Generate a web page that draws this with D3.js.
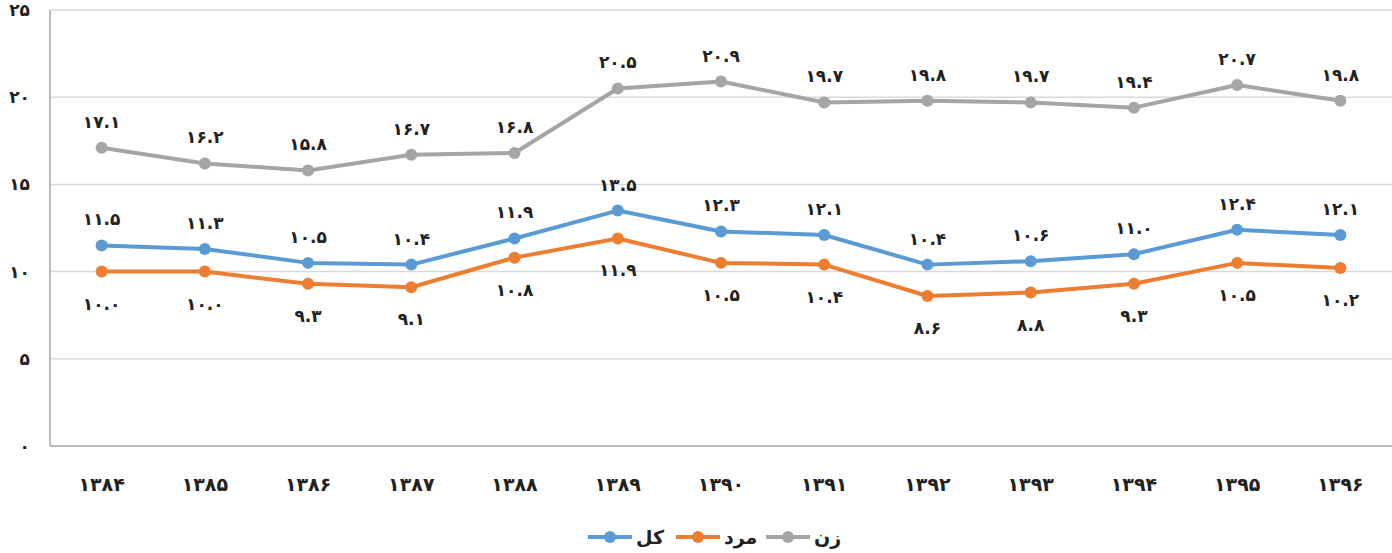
<!DOCTYPE html>
<html>
<head>
<meta charset="utf-8">
<script src="https://cdn.jsdelivr.net/npm/d3@7"></script>
<style>
body { margin:0; background:#fff; }
text { font-family: "DejaVu Sans", sans-serif; font-weight: bold; fill:#222; }
</style>
</head>
<body>
<script>
const width = 1392, height = 553;

const years = [1384, 1385, 1386, 1387, 1388, 1389, 1390, 1391, 1392, 1393, 1394, 1395, 1396];
const zan = [17.1, 16.2, 15.8, 16.7, 16.8, 20.5, 20.9, 19.7, 19.8, 19.7, 19.4, 20.7, 19.8];
const kol = [11.5, 11.3, 10.5, 10.4, 11.9, 13.5, 12.3, 12.1, 10.4, 10.6, 11.0, 12.4, 12.1];
const mard = [10.0, 10.0, 9.3, 9.1, 10.8, 11.9, 10.5, 10.4, 8.6, 8.8, 9.3, 10.5, 10.2];
const yTicks = [0, 5, 10, 15, 20, 25];

const fa = s => String(s).replace(/\d/g, d => "۰۱۲۳۴۵۶۷۸۹"[d]);

const series = [
  {name: "زن", values: zan, color: "#a5a5a5", above: true},
  {name: "کل", values: kol, color: "#5b9bd5", above: true},
  {name: "مرد", values: mard, color: "#ed7d31", above: false}
];

const svg = d3.select("body").append("svg")
  .attr("width", width).attr("height", height);

const x = d3.scaleBand().domain(years).range([50, 1392]);
const y = d3.scaleLinear().domain([0, 25]).range([446, 10]);

// grid
svg.append("g").selectAll("line").data(yTicks.filter(d => d > 0)).join("line")
  .attr("x1", 50).attr("x2", 1392)
  .attr("y1", d => y(d)).attr("y2", d => y(d))
  .attr("stroke", "#d9d9d9").attr("stroke-width", 1.5);

// axes lines
svg.append("line").attr("x1", 50).attr("x2", 50).attr("y1", y(25)).attr("y2", y(0))
  .attr("stroke", "#a6a6a6").attr("stroke-width", 1.5);
svg.append("line").attr("x1", 50).attr("x2", 1392).attr("y1", y(0)).attr("y2", y(0))
  .attr("stroke", "#a6a6a6").attr("stroke-width", 1.5);

// y labels
svg.append("g").selectAll("text").data(yTicks).join("text")
  .attr("x", 30).attr("y", d => y(d) + 6)
  .attr("text-anchor", "end").attr("font-size", 17)
  .text(d => fa(d));

// x labels
svg.append("g").selectAll("text").data(years).join("text")
  .attr("x", d => x(d) + x.bandwidth() / 2).attr("y", 491)
  .attr("text-anchor", "middle").attr("font-size", 19)
  .text(d => fa(d));

const line = d3.line()
  .x((d, i) => x(years[i]) + x.bandwidth() / 2)
  .y(d => y(d));

series.forEach(s => {
  const g = svg.append("g");
  g.append("path").datum(s.values)
    .attr("d", line).attr("fill", "none")
    .attr("stroke", s.color).attr("stroke-width", 4).attr("stroke-linejoin", "round");
  g.selectAll("circle").data(s.values).join("circle")
    .attr("cx", (d, i) => x(years[i]) + x.bandwidth() / 2)
    .attr("cy", d => y(d)).attr("r", 6).attr("fill", s.color);
  g.selectAll("text").data(s.values).join("text")
    .attr("x", (d, i) => x(years[i]) + x.bandwidth() / 2)
    .attr("y", d => s.above ? y(d) - 20 : y(d) + 38)
    .attr("text-anchor", "middle").attr("font-size", 17)
    .text(d => fa(d.toFixed(1)));
});

// legend
const legendItems = [
  {name: "کل", color: "#5b9bd5", x0: 588},
  {name: "مرد", color: "#ed7d31", x0: 676},
  {name: "زن", color: "#a5a5a5", x0: 766}
];
const lg = svg.append("g");
legendItems.forEach(it => {
  lg.append("line").attr("x1", it.x0).attr("x2", it.x0 + 44).attr("y1", 537).attr("y2", 537)
    .attr("stroke", it.color).attr("stroke-width", 4);
  lg.append("circle").attr("cx", it.x0 + 22).attr("cy", 537).attr("r", 6).attr("fill", it.color);
  lg.append("text").attr("x", it.x0 + 48).attr("y", 544)
    .attr("font-size", 19).attr("text-anchor", "start").attr("direction", "ltr")
    .text(it.name);
});
</script>
</body>
</html>
